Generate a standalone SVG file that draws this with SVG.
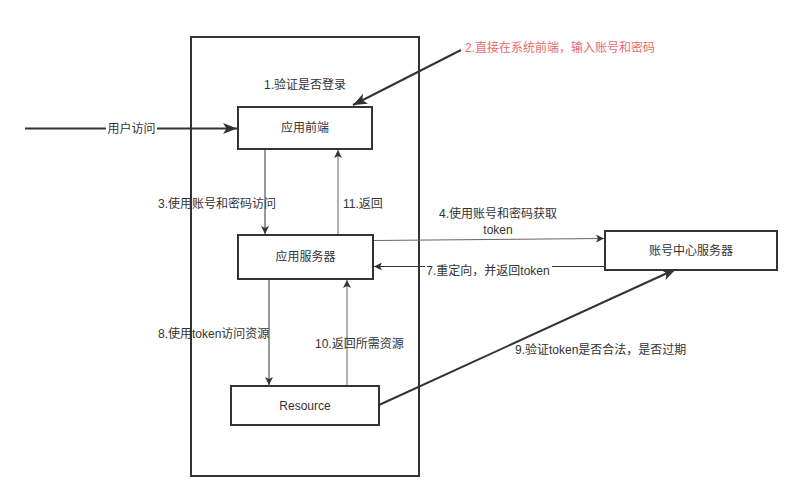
<svg xmlns="http://www.w3.org/2000/svg" width="801" height="501" viewBox="0 0 801 501">
<defs>
<style>
.box{fill:#fff;stroke:#333;stroke-width:2}
.t{font-family:"Liberation Sans","Noto Sans CJK SC",sans-serif;font-size:12px;fill:#333}
.c{text-anchor:middle}
.ln{fill:none;stroke:#333;stroke-width:1}
.lg{fill:none;stroke:#666;stroke-width:1}
.lt{fill:none;stroke:#333;stroke-width:2}
</style>
<marker id="a" viewBox="0 0 10 10" refX="10" refY="5" markerWidth="8" markerHeight="8" markerUnits="userSpaceOnUse" orient="auto"><path d="M0,0 L10,5 L0,10 L2.5,5 Z" fill="#333"/></marker>
<marker id="ab" viewBox="0 0 10 10" refX="10" refY="5" markerWidth="14" markerHeight="14" markerUnits="userSpaceOnUse" orient="auto"><path d="M0,1 L10,5 L0,9 L2.5,5 Z" fill="#333"/></marker>
</defs>
<rect width="801" height="501" fill="#fff"/>
<g id="container"><rect x="191" y="37" width="228" height="439" fill="none" stroke="#333" stroke-width="2"/></g>
<g id="connectors">
<path class="lt" d="M25,128.5 L237,128.5" marker-end="url(#ab)"/>
<rect x="106" y="121" width="51" height="15" fill="#fff"/>
<text class="t c" x="131.5" y="133">用户访问</text>
<path class="lt" d="M461,50 L353,105" marker-end="url(#ab)"/>
<path class="ln" d="M265,150 L265,234" marker-end="url(#a)"/>
<path class="lg" d="M338,235 L338,150" marker-end="url(#a)"/>
<path class="lg" d="M373,240.5 L604,238.5" marker-end="url(#a)"/>
<path class="ln" d="M605,266.5 L374,266.5" marker-end="url(#a)"/>
<rect x="425" y="263" width="127" height="15" fill="#fff"/>
<path class="ln" d="M269,280 L269,385" marker-end="url(#a)"/>
<path class="lg" d="M347,386 L347,280" marker-end="url(#a)"/>
<path class="lt" d="M379,405 L676,269" marker-end="url(#ab)"/>
</g>
<g id="labels">
<text class="t c" x="305" y="89">1.验证是否登录</text>
<text class="t" x="465" y="52" style="fill:#EA6B66">2.直接在系统前端，输入账号和密码</text>
<text class="t" x="158" y="208">3.使用账号和密码访问</text>
<text class="t" x="343" y="208">11.返回</text>
<text class="t c" x="498" y="218">4.使用账号和密码获取</text>
<text class="t c" x="498" y="234">token</text>
<text class="t c" x="488" y="275">7.重定向，并返回token</text>
<text class="t" x="158" y="338">8.使用token访问资源</text>
<text class="t" x="315" y="348">10.返回所需资源</text>
<text class="t" x="515" y="354">9.验证token是否合法，是否过期</text>
</g>
<g id="node-frontend"><rect class="box" x="238" y="107" width="134" height="42"/><text class="t c" x="305" y="132">应用前端</text></g>
<g id="node-appserver"><rect class="box" x="238" y="235" width="135" height="44"/><text class="t c" x="305.5" y="261">应用服务器</text></g>
<g id="node-account"><rect class="box" x="605" y="231" width="172" height="39"/><text class="t c" x="691" y="255">账号中心服务器</text></g>
<g id="node-resource"><rect class="box" x="231" y="386" width="148" height="39"/><text class="t c" x="305" y="410">Resource</text></g>
</svg>
